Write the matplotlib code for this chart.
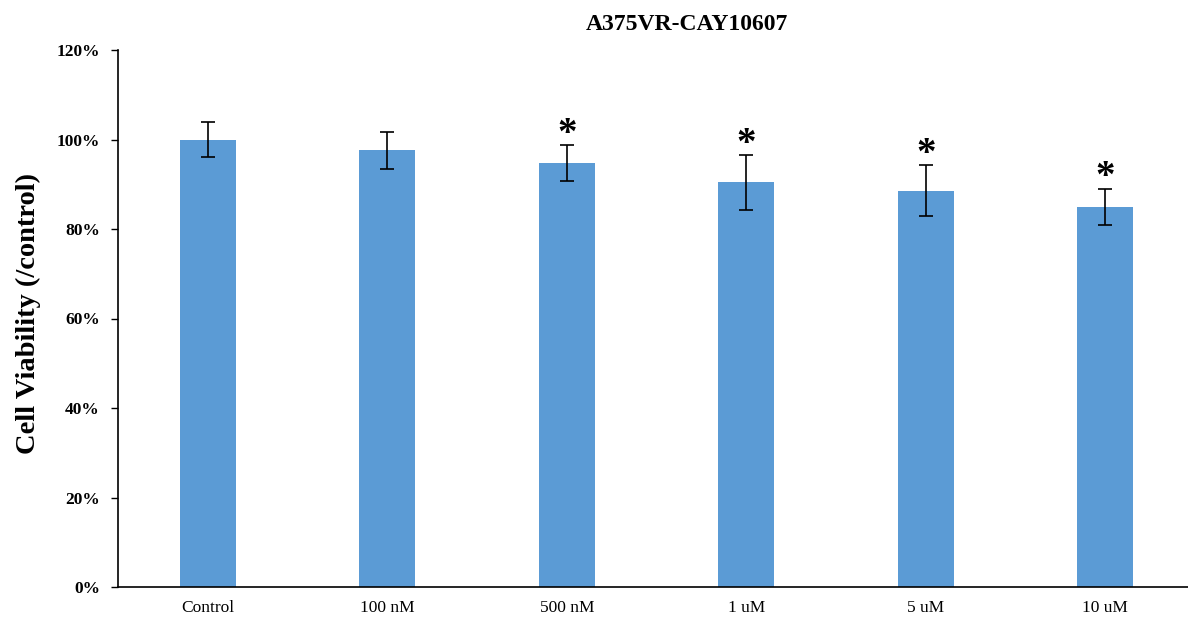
import numpy as np
import matplotlib
matplotlib.use('Agg')
import matplotlib.pyplot as plt

categories = ['Control', '100 nM', '500 nM', '1 uM', '5 uM', '10 uM']
viability = [100.0, 97.6, 94.7, 90.4, 88.6, 85.0]
errors = [4.0, 4.1, 4.0, 6.1, 5.7, 4.0]
significant = [False, False, True, True, True, True]

plt.rcParams['font.family'] = ['Liberation Serif', 'DejaVu Serif']

fig = plt.figure(figsize=(11.88, 6.22), dpi=100)
ax = fig.add_axes([118/1188, 1 - 587/622, 1077/1188, (587 - 50)/622])

x = np.arange(len(categories))
ax.bar(x, viability, width=0.31, color='#5B9BD5', zorder=2)
ax.errorbar(x, viability, yerr=errors, fmt='none', ecolor='black',
            elinewidth=1.2, capsize=5, capthick=1.2, zorder=3)

for xi, v, e, s in zip(x, viability, errors, significant):
	if s:
		ax.text(xi, v + e - 1.7, '*', ha='center', va='bottom',
		        fontsize=28, fontweight='bold')

ax.set_xlim(-0.5, len(categories) - 0.5)
ax.set_ylim(0, 120)
ax.set_yticks(np.arange(0, 121, 20))
ax.set_yticklabels(['%d%%' % v for v in range(0, 121, 20)],
                   fontsize=12.5, fontweight='bold')
ax.set_xticks(x)
ax.set_xticklabels(categories, fontsize=12.5)
ax.tick_params(axis='x', length=0, pad=9)
ax.tick_params(axis='y', length=5, width=1, pad=8)

ax.spines['top'].set_visible(False)
ax.spines['right'].set_visible(False)
ax.spines['left'].set_linewidth(1.2)
ax.spines['bottom'].set_linewidth(1.2)

fig.text(28/1188, 1 - 314/622, 'Cell Viability (/control)', rotation=90,
         ha='center', va='center', fontsize=20.5, fontweight='bold')
fig.text(687/1188, 1 - 24/622, 'A375VR-CAY10607', ha='center', va='center',
         fontsize=17, fontweight='bold')

fig.savefig('out.png', dpi=100)
